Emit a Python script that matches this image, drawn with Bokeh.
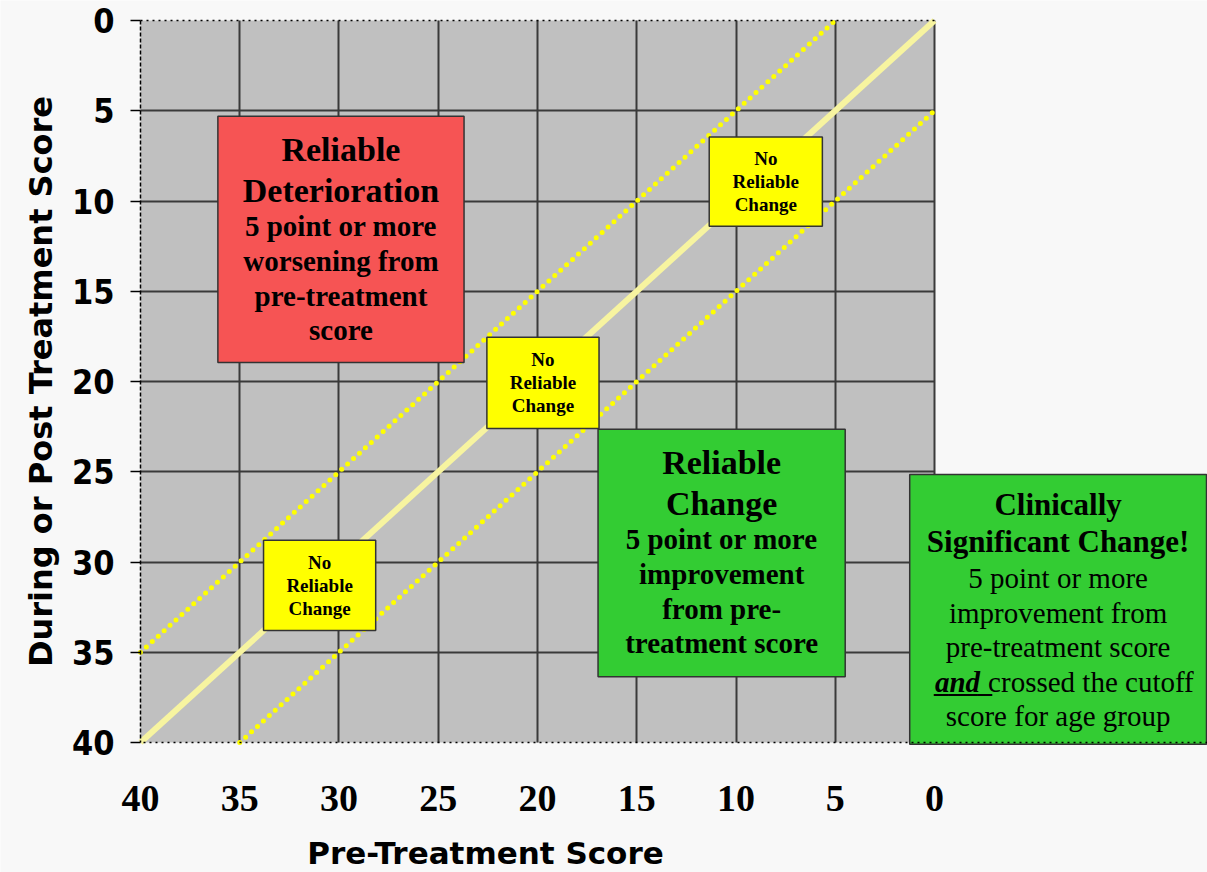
import math
from bokeh.plotting import figure
from bokeh.models import Range1d, FixedTicker, LinearAxis, ColumnDataSource, Label
from bokeh.core.properties import value
from bokeh.embed import file_html
from bokeh.resources import INLINE

# ---------------- data ----------------
pre_ticks = [40, 35, 30, 25, 20, 15, 10, 5, 0]
post_ticks = [0, 5, 10, 15, 20, 25, 30, 35, 40]
x_title = "Pre-Treatment Score"
y_title = "During or Post Treatment Score"
rci_points = 5  # reliable change threshold (points)

# zones: 0 deterioration, 1-3 no reliable change, 4 reliable change, 5 clinically significant
zone_pre_left = [36.1, 33.8, 22.55, 11.35, 16.95, 1.25]
zone_pre_right = [23.7, 28.15, 16.9, 5.65, 4.5, -13.7]
zone_post_top = [5.3, 28.8, 17.55, 6.45, 22.65, 25.15]
zone_post_bottom = [18.95, 33.8, 22.6, 11.4, 36.35, 40.1]

det_head = ["Reliable", "Deterioration"]
det_body = ["5 point or more", "worsening from", "pre-treatment", "score"]
nrc_lines = ["No", "Reliable", "Change"]
rc_head = ["Reliable", "Change"]
rc_body = ["5 point or more", "improvement", "from pre-", "treatment score"]
csc_head = ["Clinically", "Significant Change!"]
csc_body = ["5 point or more", "improvement from", "pre-treatment score"]
csc_emph = "and"
csc_after = "crossed the cutoff"
csc_last = "score for age group"

# ---------------- styles ----------------
PAGE = "#f8f8f8"
PLOT_BG = "#c0c0c0"
GRID = "#3a3a3a"
zone_fill = ["#f65454", "#ffff00", "#ffff00", "#ffff00", "#33cc33", "#33cc33"]
SERIF = "Liberation Serif"
TITLE_FONT = "DejaVu Sans"
TICK_FONT = "DejaVu Sans Condensed"

lo, hi = post_ticks[0], post_ticks[-1]
x_left, x_right = pre_ticks[0], pre_ticks[-1]
frame_x_end = -13.75

# the frame spans the whole canvas; axes are pinned to the scored square
p = figure(width=1207, height=872,
           x_range=Range1d(47.05, frame_x_end),
           y_range=Range1d(47.2, -1.108),
           output_backend="svg", toolbar_location=None,
           background_fill_color=PAGE, border_fill_color=PAGE,
           min_border=0)
p.outline_line_color = None

# plot-area background only over the scored region
p.quad(left=x_left, right=x_right, top=lo, bottom=hi,
       fill_color=PLOT_BG, line_color=None, level="image")

# grids
xt = FixedTicker(ticks=pre_ticks)
yt = FixedTicker(ticks=post_ticks)
p.xaxis.ticker = xt
p.yaxis.ticker = yt
p.xgrid.ticker = FixedTicker(ticks=pre_ticks[1:])
p.ygrid.ticker = FixedTicker(ticks=post_ticks[1:-1])
for g in (p.xgrid, p.ygrid):
    g.grid_line_color = GRID
    g.grid_line_width = 2
    g.grid_line_alpha = 1
p.ygrid.cross_bounds = (x_right, x_left)
p.xgrid.cross_bounds = (lo, hi)

# bottom axis, pinned to the bottom of the scored square
xa = p.xaxis[0]
xa.fixed_location = hi
xa.bounds = (frame_x_end, x_left)
xa.axis_line_dash = "dotted"
xa.axis_line_color = "black"
xa.axis_line_width = 1.5
xa.major_tick_out = 0
xa.major_tick_in = 0
xa.minor_tick_out = 0
xa.minor_tick_in = 0
xa.major_label_text_font = SERIF
xa.major_label_text_font_style = "bold"
xa.major_label_text_font_size = "38px"
xa.major_label_text_color = "black"
xa.major_label_standoff = 43

# left axis, pinned to the left of the scored square
ya = p.yaxis[0]
ya.fixed_location = x_left
ya.bounds = (lo, hi)
ya.axis_line_dash = "4 2"
ya.axis_line_color = "black"
ya.axis_line_width = 1.5
ya.major_tick_out = 10
ya.major_tick_in = 0
ya.major_tick_line_color = "black"
ya.major_tick_line_width = 1.5
ya.minor_tick_out = 0
ya.minor_tick_in = 0
ya.major_label_text_font = TICK_FONT
ya.major_label_text_font_style = "bold"
ya.major_label_text_font_size = "34px"
ya.major_label_text_color = "black"
ya.major_label_standoff = 16

# top border as a dotted, unlabelled axis over the scored range
top_ax = LinearAxis(ticker=FixedTicker(ticks=[]), bounds=(x_right, x_left), fixed_location=lo,
                    axis_line_dash="dotted", axis_line_color="black", axis_line_width=1.5,
                    major_tick_out=0, major_tick_in=0, minor_tick_out=0, minor_tick_in=0,
                    major_label_text_font_size="0px")
p.add_layout(top_ax, "above")

# axis titles
p.add_layout(Label(x=22.62, y=46.12, text=x_title, text_align="center",
                   text_baseline="middle", text_font=TITLE_FONT,
                   text_font_style="bold", text_font_size="31px", text_color="black"))
p.add_layout(Label(x=45.03, y=20.0, text=y_title, text_align="center",
                   text_baseline="middle", angle=math.pi / 2, text_font=TITLE_FONT,
                   text_font_style="bold", text_font_size="32px", text_color="black"))

# identity line (no change)
p.line(x=[x_left, x_right], y=[hi, lo], line_color="#f7f4a0", line_width=6)

# reliable change bands (+/- rci)
for d in (-rci_points, rci_points):
    a = min(hi, hi - d)
    b = max(lo, lo - d)
    p.line(x=[a, b], y=[a + d, b + d], line_color="#ffff00", line_width=5,
           line_dash="0 8", line_cap="round")

# zones
zsrc = ColumnDataSource(dict(left=zone_pre_left, right=zone_pre_right,
                             top=zone_post_top, bottom=zone_post_bottom, fill=zone_fill))
p.quad(left="left", right="right", top="top", bottom="bottom", source=zsrc,
       fill_color="fill", line_color="#333333", line_width=1.5)


def cx(i):
    return (zone_pre_left[i] + zone_pre_right[i]) / 2


def add_text(xs, ys, texts, offs, size, style, align="center", xoff=0):
    src = ColumnDataSource(dict(x=xs, y=ys, text=texts, yo=offs))
    p.text(x="x", y="y", text="text", y_offset="yo", x_offset=xoff, source=src,
           text_font=value(SERIF), text_font_size=size, text_font_style=style,
           text_align=align, text_baseline="middle", text_color="black")


# big zone texts (deterioration, reliable change)
for i, head, body in ((0, det_head, det_body), (4, rc_head, rc_body)):
    n = len(body)
    add_text([cx(i)] * 2, [zone_post_top[i]] * 2, head, [33, 74], "34px", "bold")
    add_text([cx(i)] * n, [zone_post_top[i]] * n, body,
             [110 + 34.7 * k for k in range(n)], "29px", "bold")

# no reliable change zones
for i in (1, 2, 3):
    ymid = (zone_post_top[i] + zone_post_bottom[i]) / 2
    add_text([cx(i)] * 3, [ymid] * 3, nrc_lines, [-23, 0, 23], "19px", "bold")

# clinically significant change
i = 5
top = zone_post_top[i]
add_text([cx(i)] * 2, [top] * 2, csc_head, [30, 67], "31px", "bold")
add_text([cx(i)] * 3, [top] * 3, csc_body, [104, 139, 173], "29px", "normal")
add_text([cx(i)], [top], [csc_emph], [208], "29px", "bold italic", align="right", xoff=-78)
add_text([cx(i)], [top], ["____"], [208], "29px", "bold", align="right", xoff=-66)
add_text([cx(i)], [top], [csc_after], [208], "29px", "normal", align="left", xoff=-70)
add_text([cx(i)], [top], [csc_last], [242], "29px", "normal")

open("out.html", "w").write(file_html(p, INLINE))
